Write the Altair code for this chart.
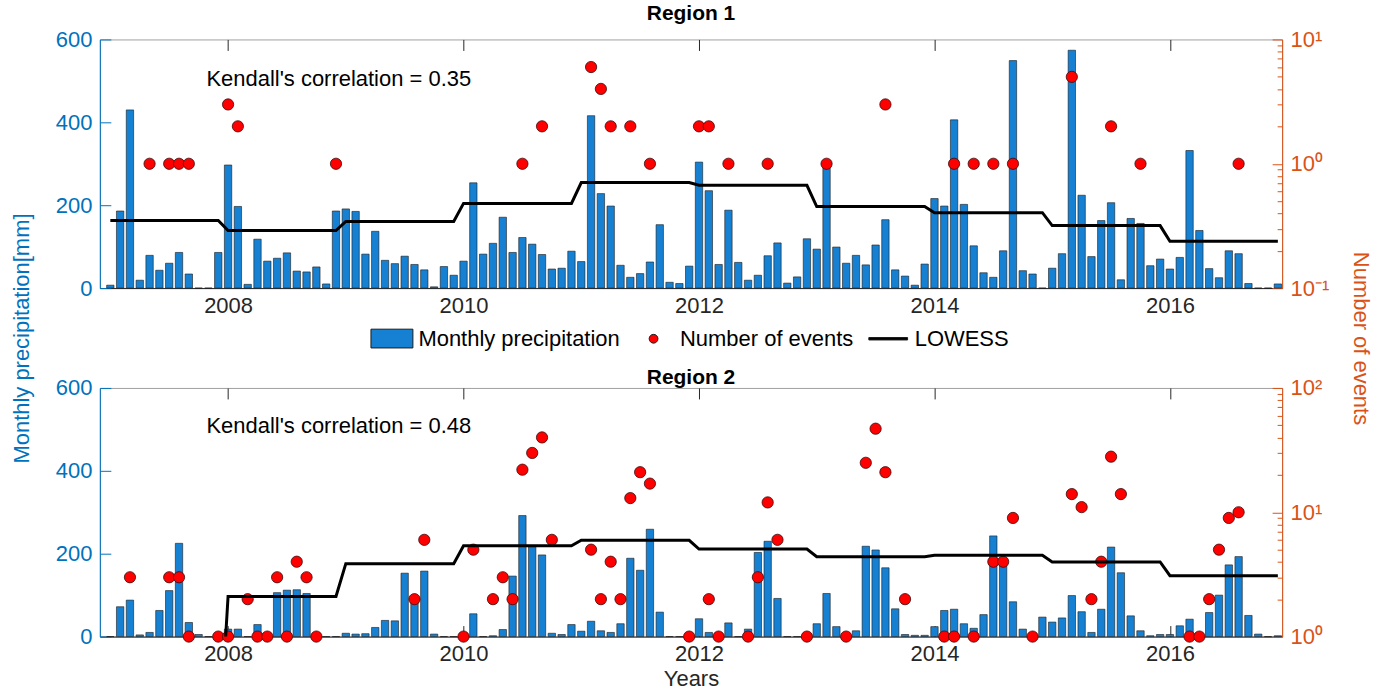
import altair as alt
import pandas as pd

FONT = "Liberation Sans"
BAR_BLUE = "#1681D2"
AXIS_BLUE = "#0072BD"
ORANGE = "#D95319"
DARK = "#262626"
RED = "#FF0000"

YEARS = list(range(2007, 2017))
MONTHS = [f"{y}-{m:02d}" for y in YEARS for m in range(1, 13)]

# ---------------- data ----------------
precip_region1 = [
    7, 186, 430, 19, 79, 43, 60, 86, 34, 0, 0, 86,          # 2007
    297, 197, 9, 118, 65, 72, 85, 41, 39, 51, 10, 186,      # 2008
    191, 185, 82, 137, 67, 59, 77, 57, 44, 3, 52, 31,       # 2009
    65, 254, 82, 108, 171, 86, 122, 106, 81, 46, 48, 89,    # 2010
    64, 416, 228, 198, 55, 26, 35, 63, 153, 14, 11, 53,     # 2011
    304, 235, 57, 188, 62, 19, 31, 78, 109, 12, 27, 119,    # 2012
    94, 297, 99, 60, 79, 56, 104, 165, 44, 29, 7, 58,       # 2013
    216, 198, 406, 202, 102, 37, 26, 90, 549, 42, 34, 0,    # 2014
    48, 83, 574, 224, 76, 163, 206, 20, 168, 156, 54, 70,   # 2015
    46, 74, 332, 139, 47, 25, 90, 83, 11, 0, 0, 10,         # 2016
]
precip_region2 = [
    0, 72, 88, 4, 10, 63, 111, 225, 34, 5, 0, 0,            # 2007
    18, 18, 0, 29, 0, 106, 112, 113, 104, 0, 0, 0,          # 2008
    8, 6, 7, 22, 39, 38, 153, 84, 158, 6, 0, 0,             # 2009
    0, 55, 0, 2, 17, 146, 292, 217, 197, 8, 5, 29,          # 2010
    13, 37, 14, 10, 31, 189, 160, 259, 59, 0, 0, 0,         # 2011
    43, 10, 0, 33, 0, 18, 203, 230, 92, 0, 0, 0,            # 2012
    31, 104, 24, 0, 14, 218, 209, 166, 67, 5, 3, 3,         # 2013
    24, 63, 66, 31, 20, 53, 243, 188, 84, 18, 0, 47,        # 2014
    35, 45, 99, 60, 10, 66, 216, 154, 50, 14, 2, 5,         # 2015
    5, 26, 42, 0, 58, 100, 173, 193, 51, 6, 0, 2,           # 2016
]

events_region1_months = [
    "2007-05", "2007-07", "2007-08", "2007-09",
    "2008-01", "2008-02", "2008-12",
    "2010-07", "2010-09",
    "2011-02", "2011-03", "2011-04", "2011-06", "2011-08",
    "2012-01", "2012-02", "2012-04", "2012-08",
    "2013-02", "2013-08",
    "2014-03", "2014-05", "2014-07", "2014-09",
    "2015-03", "2015-07", "2015-10",
    "2016-08",
]
events_region1_counts = [
    1, 1, 1, 1,
    3, 2, 1,
    1, 2,
    6, 4, 2, 2, 1,
    2, 2, 1, 1,
    1, 3,
    1, 1, 1, 1,
    5, 2, 1,
    1,
]

events_region2_months = [
    "2007-03", "2007-07", "2007-08", "2007-09", "2007-12",
    "2008-01", "2008-03", "2008-04", "2008-05", "2008-06", "2008-07",
    "2008-08", "2008-09", "2008-10",
    "2009-08", "2009-09",
    "2010-01", "2010-02", "2010-04", "2010-05", "2010-06", "2010-07",
    "2010-08", "2010-09", "2010-10",
    "2011-02", "2011-03", "2011-04", "2011-05", "2011-06", "2011-07",
    "2011-08", "2011-12",
    "2012-02", "2012-03", "2012-06", "2012-07", "2012-08", "2012-09", "2012-12",
    "2013-04", "2013-06", "2013-07", "2013-08", "2013-10",
    "2014-02", "2014-03", "2014-05", "2014-07", "2014-08", "2014-09", "2014-11",
    "2015-03", "2015-04", "2015-05", "2015-06", "2015-07", "2015-08",
    "2016-03", "2016-04", "2016-05", "2016-06", "2016-07", "2016-08",
]
events_region2_counts = [
    3, 3, 3, 1, 1,
    1, 2, 1, 1, 3, 1,
    4, 3, 1,
    2, 6,
    1, 5, 2, 3, 2, 22,
    30, 40, 6,
    5, 2, 4, 2, 13, 21,
    17, 1,
    2, 1, 1, 3, 12, 6, 1,
    1, 25, 47, 21, 2,
    1, 1, 1, 4, 4, 9, 1,
    14, 11, 2, 4, 28, 14,
    1, 1, 2, 5, 9, 10,
]

# LOWESS curve: one level per year (as drawn, flat within each year)
lowess_region1_yearly = [0.35, 0.29, 0.344, 0.48, 0.706, 0.671, 0.453, 0.404, 0.318, 0.238]
lowess_region2_yearly = [0.1, 2.1, 3.86, 5.38, 5.95, 5.06, 4.39, 4.5, 3.98, 3.09]

kendall_texts = ["Kendall's correlation = 0.35", "Kendall's correlation = 0.48"]
region_titles = ["Region 1", "Region 2"]
legend_items = ["Monthly precipitation", "Number of events", "LOWESS"]

year_ticks = [2008, 2010, 2012, 2014, 2016]
precip_ticks = [0, 200, 400, 600]
events_major_r1 = [0.1, 1, 10]
events_minor_r1 = [0.2, 0.3, 0.4, 0.5, 0.6, 0.7, 0.8, 0.9, 2, 3, 4, 5, 6, 7, 8, 9]
events_major_r2 = [1, 10, 100]
events_minor_r2 = [2, 3, 4, 5, 6, 7, 8, 9, 20, 30, 40, 50, 60, 70, 80, 90]

# ---------------- layout constants ----------------
W, H = 1184, 249
XDOMAIN = [2006.911, 2016.953]
BAR_HALF = 0.75 / 12 / 2
ANNOT_X = 2007.816
ANNOT_Y = [487, 491]

RECT_PATH = "M-1.05,-0.47L1.05,-0.47L1.05,0.47L-1.05,0.47Z"
DOT_PATH = "M0.22,0A0.22,0.22,0,1,1,-0.22,0A0.22,0.22,0,1,1,0.22,0Z"
LINE_PATH = "M-0.97,-0.06L0.97,-0.06L0.97,0.06L-0.97,0.06Z"


def dec_year(label):
    y, m = label.split("-")
    return int(y) + (int(m) - 1) / 12.0


xscale = alt.Scale(domain=XDOMAIN, nice=False, zero=False, padding=0)


def x_bottom_axis(title):
    kw = dict(orient="bottom", values=year_ticks, format="d", labelFontSize=22,
              labelFont=FONT, labelColor=DARK, domainColor=DARK, tickColor=DARK,
              tickSize={"expr": "-11"}, labelPadding=18, grid=False, labelFlush=False)
    if title:
        kw.update(title=title, titleFontSize=22, titleFont=FONT, titleFontWeight="normal",
                  titleColor=DARK, titlePadding=4)
    else:
        kw.update(title=None)
    return alt.Axis(**kw)


x_top_axis = alt.Axis(orient="top", values=year_ticks, labels=False, domain=False,
                      tickColor=DARK, tickSize={"expr": "-11"}, title=None, grid=False)


def make_panel(idx, precip, ev_months, ev_counts, lowess_yearly, ev_domain,
               ev_major, ev_minor, label_expr, title_offset, first):
    t = [dec_year(m) for m in MONTHS]
    bars_df = pd.DataFrame({
        "t0": [v - BAR_HALF for v in t],
        "t1": [v + BAR_HALF for v in t],
        "precip": precip,
    })
    ev_df = pd.DataFrame({"t": [dec_year(m) for m in ev_months], "events": ev_counts})
    lw_df = pd.DataFrame({"t": t, "lowess": [v for v in lowess_yearly for _ in range(12)]})
    txt_df = pd.DataFrame({"x": [ANNOT_X], "y": [ANNOT_Y[idx]], "label": [kendall_texts[idx]]})

    xb = x_bottom_axis(None if first else "Years")
    left_axis = alt.Axis(
        orient="left", values=precip_ticks, format="d", labelFontSize=22, labelFont=FONT,
        labelColor=AXIS_BLUE, domainColor=AXIS_BLUE, tickColor=AXIS_BLUE,
        tickSize={"expr": "-11"}, labelPadding=19, grid=False,
        title="Monthly precipitation[mm]" if first else None,
        titleColor=AXIS_BLUE, titleFontSize=22, titleFont=FONT, titleFontWeight="normal",
        titleY=299, titlePadding=22,
    )
    yleft = alt.Scale(domain=[0, 600], nice=False, zero=True, padding=0)

    bars = alt.Chart(bars_df).mark_bar(
        fill=BAR_BLUE, stroke="#1b1b1b", strokeWidth=0.6, opacity=1
    ).encode(
        x=alt.X("t0:Q", scale=xscale, axis=xb),
        x2="t1:Q",
        y=alt.Y("precip:Q", scale=yleft, axis=left_axis),
        y2=alt.datum(0),
    )
    text = alt.Chart(txt_df).mark_text(
        align="left", baseline="alphabetic", fontSize=22, font=FONT, color="black"
    ).encode(
        x=alt.X("x:Q", scale=xscale, axis=xb),
        y=alt.Y("y:Q", scale=yleft, axis=left_axis),
        text="label:N",
    )
    left = alt.layer(bars, text)

    yright = alt.Scale(type="log", domain=ev_domain, nice=False, padding=0)
    major_axis = alt.Axis(
        orient="right", values=ev_major, labelExpr=label_expr, labelFontSize=22,
        labelFont=FONT, labelColor=ORANGE, domainColor=ORANGE, tickColor=ORANGE,
        tickSize={"expr": "-10"}, labelPadding=18, grid=False,
        title="Number of events" if first else None,
        titleColor=ORANGE, titleFontSize=22, titleFont=FONT, titleFontWeight="normal",
        titleY=299, titlePadding=20,
    )
    minor_axis = alt.Axis(
        orient="right", values=ev_minor, labels=False, domain=False, tickColor=ORANGE,
        tickSize={"expr": "-5"}, title=None, grid=False,
    )

    points = alt.Chart(ev_df).mark_point(
        filled=True, fill=RED, size=127, stroke="#3b0a0a", strokeWidth=0.8, opacity=1
    ).encode(
        x=alt.X("t:Q", scale=xscale, axis=x_top_axis),
        y=alt.Y("events:Q", scale=yright, axis=major_axis),
    )
    line = alt.Chart(lw_df).mark_line(color="black", strokeWidth=3, clip=True).encode(
        x=alt.X("t:Q", scale=xscale, axis=x_top_axis),
        y=alt.Y("lowess:Q", scale=yright, axis=minor_axis),
    )
    right_layers = [points, line]
    if first:
        leg = alt.Legend(
            title=None, orient="none", legendX=272, legendY=279, direction="horizontal",
            symbolSize=1600, labelFontSize=22, labelFont=FONT, labelColor="black",
            labelOffset=6, columnPadding=13, labelLimit=400, symbolStrokeWidth=1,
        )
        dummy_df = pd.DataFrame({"series": legend_items, "nx": [None, None, None]})
        dummy = alt.Chart(dummy_df).mark_point(
            filled=True, stroke="#1b1b1b", strokeWidth=1, opacity=1
        ).encode(
            x=alt.X("nx:Q", scale=xscale, axis=x_top_axis),
            color=alt.Color("series:N", scale=alt.Scale(
                domain=legend_items, range=[BAR_BLUE, RED, "black"]), legend=leg),
            shape=alt.Shape("series:N", scale=alt.Scale(
                domain=legend_items, range=[RECT_PATH, DOT_PATH, LINE_PATH]), legend=leg),
        )
        right_layers.append(dummy)
    right = alt.layer(*right_layers).resolve_axis(y="independent")

    return alt.layer(left, right).resolve_scale(y="independent").resolve_axis(
        x="independent"
    ).properties(
        width=W, height=H,
        title=alt.TitleParams(region_titles[idx], fontSize=21, fontWeight="bold", font=FONT,
                              color="black", anchor="middle", offset=title_offset),
    )


p1 = make_panel(0, precip_region1, events_region1_months, events_region1_counts,
                lowess_region1_yearly, [0.1, 10], events_major_r1, events_minor_r1,
                "datum.value < 0.5 ? '10⁻¹' : (datum.value < 5 ? '10⁰' : '10¹')", 4, True)
p2 = make_panel(1, precip_region2, events_region2_months, events_region2_counts,
                lowess_region2_yearly, [1, 100], events_major_r2, events_minor_r2,
                "datum.value < 5 ? '10⁰' : (datum.value < 50 ? '10¹' : '10²')", -11, False)

chart = alt.vconcat(
    p1, p2, spacing=100, bounds="flush",
    padding={"left": 9, "right": 2, "top": 2, "bottom": 0},
).resolve_scale(x="independent", y="independent").configure(
    font=FONT
).configure_view(stroke="#a0a0a0", strokeWidth=1)

chart.save("out.html", embed_options={"renderer": "svg", "actions": False})
